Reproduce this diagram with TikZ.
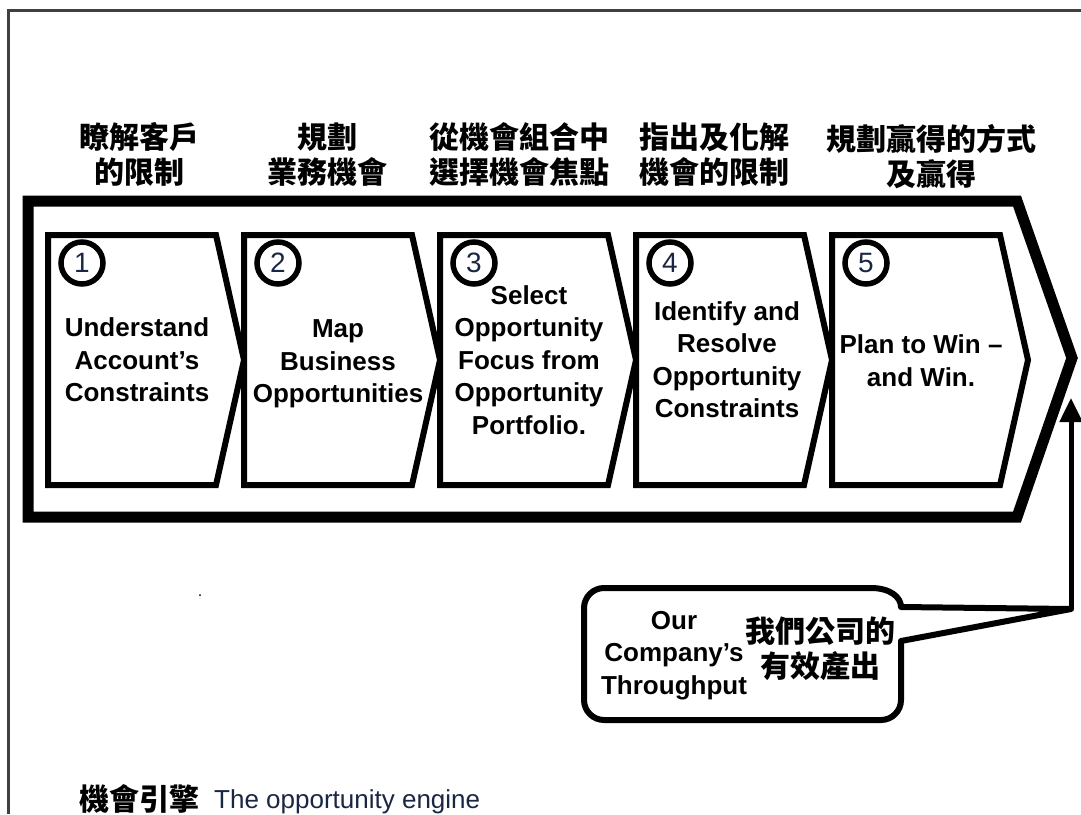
\documentclass[tikz,border=0pt]{standalone}
\usepackage{fontspec}
\setmainfont{Liberation Sans}
\newfontfamily\cjk{Noto Sans CJK TC}
\usetikzlibrary{arrows.meta}
\definecolor{frameg}{HTML}{404040}
\definecolor{navy}{HTML}{1A2744}
\tikzset{
  frameline/.style={draw=frameg, line width=2.5pt},
  outerchev/.style={draw=black, line width=11pt, line join=miter, fill=white},
  stepbox/.style={draw=black, line width=6pt, line join=miter, miter limit=2, fill=white},
  numcirc/.style={circle, draw=black, line width=5.5pt, minimum size=42pt, inner sep=0pt, fill=white, text=navy, font=\fontsize{28}{28}\selectfont},
  steptext/.style={align=center, font=\fontsize{26}{32.5}\selectfont\bfseries, text=black, inner sep=0pt},
  headtext/.style={align=center, font=\fontsize{30}{35}\selectfont\cjk\bfseries, text=black, inner sep=0pt},
  bubble/.style={draw=black, line width=6pt, fill=white, line join=round},
  uparrow/.style={draw=black, line width=5pt, -{Triangle[length=24pt,width=22pt]}},
  captionzh/.style={font=\fontsize{30}{30}\selectfont\cjk\bfseries, text=black, inner sep=0pt},
  captionen/.style={font=\fontsize{26}{26}\selectfont, text=navy, inner sep=0pt}
}
\begin{document}
\begin{tikzpicture}[x=1pt,y=-1pt]
\useasboundingbox (0,0) rectangle (1081,814);
\fill[white] (0,0) rectangle (1081,814);
% frame
\draw[frameline] (8.5,814) -- (8.5,10.5) -- (1081,10.5);
% outer chevron
\draw[outerchev] (28,201) -- (1017,201) -- (1072,358) -- (1017,517) -- (28,517) -- cycle;
% step boxes
\foreach \i/\L in {1/48,2/244,3/440,4/636,5/832}{
  \draw[stepbox] (\L,235) -- ++(168,0) -- ++(28,125) -- ++(-28,125) -- ++(-168,0) -- cycle;
}
\foreach \i/\L in {1/48,2/244,3/440,4/636,5/832}{
  \node[numcirc] (n\i) at (\L+34,263) {\i};
}
% step texts
\node[steptext] (s1) at (137,360) {Understand\\Account’s\\Constraints};
\node[steptext] (s2) at (338,364) {Map\\Business\\Opportunities};
\node[steptext] (s3) at (529,360) {Select\\Opportunity\\Focus from\\Opportunity\\Portfolio.};
\node[steptext] (s4) at (727,359.5) {Identify and\\Resolve\\Opportunity\\Constraints};
\node[steptext] (s5) at (921,360.5) {Plan to Win –\\and Win.};
% headers
\node[headtext] (h1) at (139,154.5) {瞭解客戶\\的限制};
\node[headtext] (h2) at (327,154.5) {規劃\\業務機會};
\node[headtext] (h3) at (519,154.5) {從機會組合中\\選擇機會焦點};
\node[headtext] (h4) at (714,154.5) {指出及化解\\機會的限制};
\node[headtext] (h5) at (931,157) {規劃贏得的方式\\及贏得};
% stray dot
\fill[black] (200,595) circle (1pt);
% callout bubble
\draw[bubble] (604,588) -- (871,588) .. controls (890,588) and (901,597) .. (901,607)
  -- (1071,609) -- (901,641) -- (901,700) .. controls (901,711) and (892,720) .. (881,720)
  -- (604,720) .. controls (593,720) and (584,711) .. (584,700)
  -- (584,608) .. controls (584,597) and (593,588) .. (604,588) -- cycle;
\coordinate (tailtip) at (1071,609);
\coordinate (arrowtip) at (1071,398);
\draw[uparrow] (tailtip) -- (arrowtip);
\node[steptext] (be) at (674,655.5) {Our\\Company’s\\Throughput};
\node[headtext] (bz) at (820,649) {我們公司的\\有效產出};
% caption
\node[captionzh, anchor=base west] (cz) at (79,810) {機會引擎};
\node[captionen, anchor=base west] (ce) at (214,808) {The opportunity engine};
\end{tikzpicture}
\end{document}
